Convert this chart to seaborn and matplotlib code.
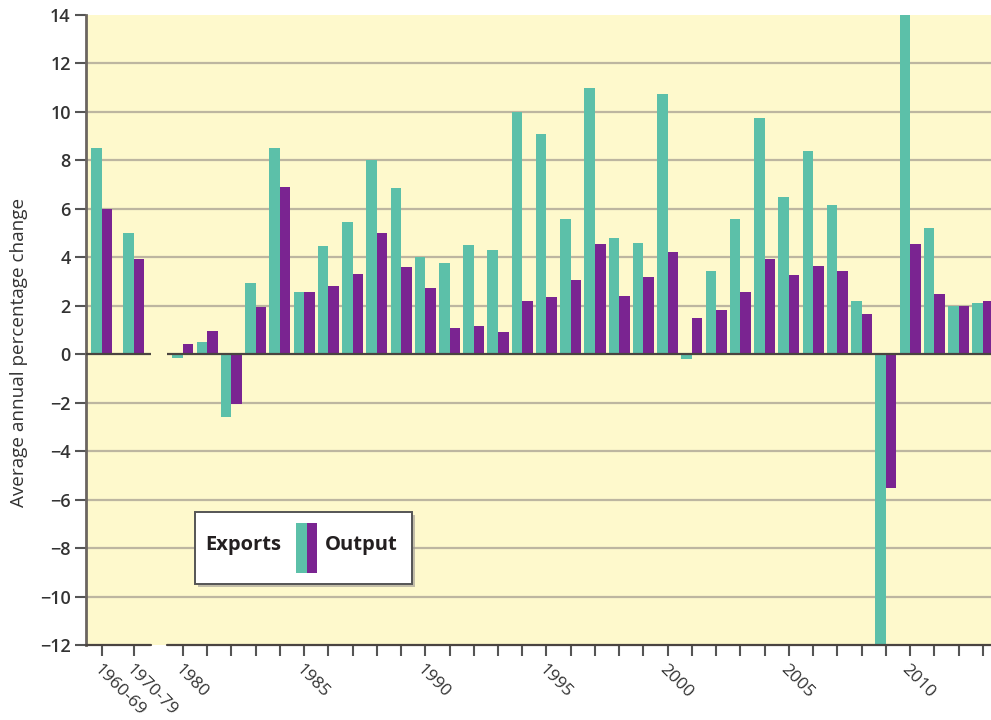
import matplotlib
matplotlib.use("Agg")
import matplotlib.pyplot as plt
from matplotlib.patches import Rectangle
import seaborn as sns
import pandas as pd

# data (average annual % change)
periods = ["1960-69", "1970-79"] + [str(y) for y in range(1980, 2014)]
exports = [8.5, 5.0,
           -0.15, 0.5, -2.6, 2.95, 8.5, 2.55, 4.45, 5.45, 8.0, 6.85,
           4.0, 3.75, 4.5, 4.3, 10.0, 9.1, 5.6, 11.0, 4.8, 4.6,
           10.75, -0.2, 3.45, 5.6, 9.75, 6.5, 8.4, 6.15, 2.2, -12.0,
           14.0, 5.2, 2.0, 2.1]
output = [6.0, 3.95,
          0.42, 0.95, -2.05, 1.95, 6.9, 2.55, 2.8, 3.32, 5.0, 3.6,
          2.75, 1.1, 1.15, 0.9, 2.2, 2.35, 3.05, 4.55, 2.4, 3.2,
          4.2, 1.5, 1.82, 2.55, 3.95, 3.25, 3.65, 3.45, 1.68, -5.5,
          4.55, 2.5, 2.0, 2.2]
series = ["Exports", "Output"]
labelled = ["1960-69", "1970-79", "1980", "1985", "1990", "1995", "2000", "2005", "2010"]

teal = "#5cc0a9"
purple = "#7a2491"
bg = "#fef9cc"
grid_c = "#bdb6a0"
dark = "#4a4440"

sns.set_style("white")
plt.rcParams["font.family"] = ["Open Sans", "DejaVu Sans"]

# the two decade averages sit squeezed in left of 1980, with a break in the axis
slot = {"1960-69": 1976.64, "1970-79": 1977.97}
pos = [slot[p] if p in slot else float(p) for p in periods]

df = pd.DataFrame({
    "pos": pos * 2,
    "value": exports + output,
    "series": [series[0]] * len(periods) + [series[1]] * len(periods),
})

fig = plt.figure(figsize=(9.91, 7.2), dpi=100)
ax = fig.add_axes([86 / 991, 1 - 645 / 720, 1 - 86 / 991, (645 - 15) / 720])
ax.set_facecolor(bg)

sns.barplot(data=df, x="pos", y="value", hue="series", hue_order=series,
            palette=[teal, purple], native_scale=True, width=0.87,
            saturation=1, errorbar=None, legend=False, linewidth=0,
            ax=ax, zorder=3)

ax.set_xlim(1976.0, 2013.34)
ax.set_ylim(-12, 14)

for yv in range(-10, 14, 2):
    if yv != 0:
        ax.axhline(yv, color=grid_c, lw=1.6, zorder=1)

brk0, brk1 = 1978.67, 1979.33
ax.hlines(0, 1976.0, brk0, color=dark, lw=1.6, zorder=4)
ax.hlines(0, brk1, 2013.34, color=dark, lw=1.6, zorder=4)

for s in ["top", "right", "bottom"]:
    ax.spines[s].set_visible(False)
ax.spines["left"].set_color("#6b6560")
ax.spines["left"].set_linewidth(2)
ax.plot([1976.0, brk0], [-12, -12], color=dark, lw=1.6, clip_on=False, zorder=5)
ax.plot([brk1, 2013.34], [-12, -12], color=dark, lw=1.6, clip_on=False, zorder=5)

yt = list(range(-12, 15, 2))
ax.set_yticks(yt)
ax.set_yticklabels([str(v).replace("-", "\u2212") for v in yt],
                   fontsize=13, fontweight="semibold", color="#333333")
ax.tick_params(axis="y", direction="out", length=8, width=1.5, color="#555555",
               left=True, pad=3)

ax.set_xticks(pos)
ax.set_xticklabels([p if p in labelled else "" for p in periods],
                   rotation=-45, ha="left", va="top", rotation_mode="anchor",
                   fontsize=12.5, color="#333333")
ax.tick_params(axis="x", direction="out", length=8, width=1.5, color="#555555",
               bottom=True, pad=4)
ax.set_xlabel("")
ax.set_ylabel("")


# legend box and y label placed by hand
def fx(px):
    return px / 991


def fy(py):
    return 1 - py / 720


fig.text(fx(19), fy(352), "Average annual percentage change", fontsize=13.6,
         color="#333333", rotation=90, ha="center", va="center")

fig.patches.append(Rectangle((fx(198), fy(587)), fx(217), 72 / 720,
                             transform=fig.transFigure, facecolor="#9a9690",
                             edgecolor="none", alpha=0.6, zorder=8))
fig.patches.append(Rectangle((fx(195), fy(584)), fx(217), 72 / 720,
                             transform=fig.transFigure, facecolor="white",
                             edgecolor="#555555", lw=1.4, zorder=9))
fig.patches.append(Rectangle((fx(296), fy(573)), fx(10.5), 50 / 720,
                             transform=fig.transFigure, facecolor=teal,
                             edgecolor="none", zorder=10))
fig.patches.append(Rectangle((fx(306.5), fy(573)), fx(10.5), 50 / 720,
                             transform=fig.transFigure, facecolor=purple,
                             edgecolor="none", zorder=10))
fig.text(fx(205), fy(545), series[0], fontsize=14.5, fontweight="bold",
         color="#231f20", va="center", ha="left", zorder=11)
fig.text(fx(325), fy(545), series[1], fontsize=14.5, fontweight="bold",
         color="#231f20", va="center", ha="left", zorder=11)

fig.savefig("out.png", dpi=100, facecolor="white")
